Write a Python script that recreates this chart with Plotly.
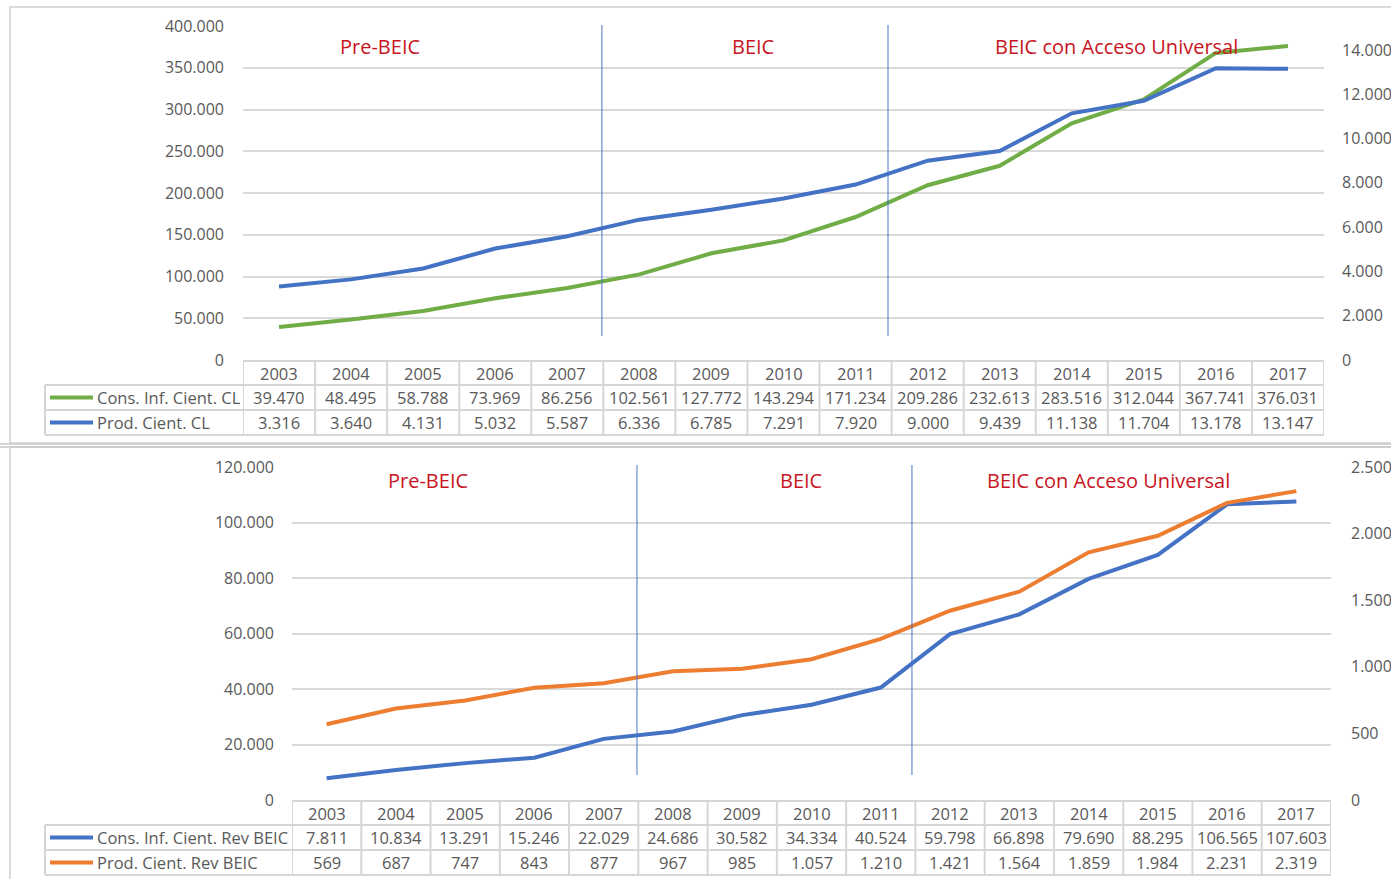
import plotly.graph_objects as go

W, H = 1391, 879

years = list(range(2003, 2018))
cons_cl = [39470, 48495, 58788, 73969, 86256, 102561, 127772, 143294, 171234,
           209286, 232613, 283516, 312044, 367741, 376031]
prod_cl = [3316, 3640, 4131, 5032, 5587, 6336, 6785, 7291, 7920,
           9000, 9439, 11138, 11704, 13178, 13147]
cons_rev = [7811, 10834, 13291, 15246, 22029, 24686, 30582, 34334, 40524,
            59798, 66898, 79690, 88295, 106565, 107603]
prod_rev = [569, 687, 747, 843, 877, 967, 985, 1057, 1210,
            1421, 1564, 1859, 1984, 2231, 2319]

name_cons_cl = "Cons. Inf. Cient. CL"
name_prod_cl = "Prod. Cient. CL"
name_cons_rev = "Cons. Inf. Cient. Rev BEIC"
name_prod_rev = "Prod. Cient. Rev BEIC"

period_labels = ["Pre-BEIC", "BEIC", "BEIC con Acceso Universal"]
period_bounds = [2007.48, 2011.45]

GREEN = "#70AD47"
BLUE = "#4472C4"
ORANGE = "#ED7D31"
GRID = "#D9D9D9"
TXT = "#595959"
RED = "#C8141E"
FONT = "Open Sans"


def fx(px):
    return px / W


def fy(py):
    return 1 - py / H


def fmt(v):
    return f"{v:,}".replace(",", ".")


fig = go.Figure()

# top chart
fig.add_trace(go.Scatter(x=years, y=cons_cl, mode="lines", name=name_cons_cl,
                         line=dict(color=GREEN, width=4), xaxis="x", yaxis="y"))
fig.add_trace(go.Scatter(x=years, y=prod_cl, mode="lines", name=name_prod_cl,
                         line=dict(color=BLUE, width=4), xaxis="x", yaxis="y2"))
# bottom chart
fig.add_trace(go.Scatter(x=years, y=cons_rev, mode="lines", name=name_cons_rev,
                         line=dict(color=BLUE, width=4), xaxis="x2", yaxis="y3"))
fig.add_trace(go.Scatter(x=years, y=prod_rev, mode="lines", name=name_prod_rev,
                         line=dict(color=ORANGE, width=4), xaxis="x2", yaxis="y4"))

tickfont = dict(family=FONT, size=16, color=TXT)
cellfont = dict(family=FONT, size=16.5, color=TXT)

charts = [
    dict(x="x", y="y", left=243, right=1324, top=26, bottom=360, ymax=400000, dtick=50000,
         y2="y2", y2max=15080, y2dtick=2000, y2top=14000,
         rows=[(name_cons_cl, GREEN, cons_cl), (name_prod_cl, BLUE, prod_cl)],
         lstand=18, rstand=17, vtop=25, vbot=336, texty=47, textx=[380, 753, 1116]),
    dict(x="x2", y="y3", left=292, right=1331, top=467, bottom=800, ymax=120000, dtick=20000,
         y2="y4", y2max=2500, y2dtick=500, y2top=2500,
         rows=[(name_cons_rev, BLUE, cons_rev), (name_prod_rev, ORANGE, prod_rev)],
         lstand=17, rstand=19, vtop=465, vbot=775, texty=481, textx=[428, 801, 1108]),
]

layout = dict(width=W, height=H, margin=dict(l=0, r=0, t=0, b=0, pad=0), autosize=False,
              paper_bgcolor="white", plot_bgcolor="white", showlegend=False,
              separators=",.", font=dict(family=FONT, color=TXT))
shapes = []
annotations = []

for c in charts:
    xa = "xaxis" if c["x"] == "x" else "xaxis" + c["x"][1:]
    ya = "yaxis" if c["y"] == "y" else "yaxis" + c["y"][1:]
    ya2 = "yaxis" + c["y2"][1:]
    layout[xa] = dict(domain=[fx(c["left"]), fx(c["right"])], range=[2002.5, 2017.5],
                      showticklabels=False, showgrid=False, zeroline=False, showline=False,
                      anchor=c["y"], fixedrange=True, automargin=False)
    layout[ya] = dict(domain=[fy(c["bottom"]), fy(c["top"])], range=[0, c["ymax"]],
                      tickvals=list(range(0, c["ymax"] + 1, c["dtick"])),
                      tickformat=",d", showgrid=True, gridcolor=GRID, gridwidth=1.5,
                      zeroline=False, showline=False, anchor=c["x"], tickfont=tickfont,
                      ticks="", ticklabelstandoff=c["lstand"], automargin=False)
    layout[ya2] = dict(overlaying=c["y"], side="right", range=[0, c["y2max"]],
                       tickvals=list(range(0, c["y2top"] + 1, c["y2dtick"])),
                       tickformat=",d", showgrid=False, zeroline=False, showline=False,
                       anchor=c["x"], tickfont=tickfont, ticks="",
                       ticklabelstandoff=c["rstand"], automargin=False)

    # period separators
    for b in period_bounds:
        shapes.append(dict(type="line", xref=c["x"], yref="paper", x0=b, x1=b,
                           y0=fy(c["vbot"]), y1=fy(c["vtop"]),
                           line=dict(color=BLUE, width=1.3), opacity=0.75))
    for lab, px in zip(period_labels, c["textx"]):
        annotations.append(dict(text=lab, xref="paper", yref="paper", x=fx(px), y=fy(c["texty"]),
                                xanchor="center", yanchor="middle", showarrow=False,
                                font=dict(family=FONT, size=20, color=RED)))

    # data table
    ht, r1, r2, r3 = c["bottom"] + 1, c["bottom"] + 25, c["bottom"] + 50, c["bottom"] + 75
    tl = dict(color="#D6D6D6", width=2)
    shapes.append(dict(type="line", xref=c["x"], yref="paper", x0=2002.5, x1=2017.5,
                       y0=fy(ht), y1=fy(ht), line=tl))
    for yy in (r1, r2, r3):
        shapes.append(dict(type="line", xref="paper", yref="paper", x0=fx(45), x1=fx(c["right"]),
                           y0=fy(yy), y1=fy(yy), line=tl))
    shapes.append(dict(type="line", xref="paper", yref="paper", x0=fx(45), x1=fx(45),
                       y0=fy(r1), y1=fy(r3), line=tl))
    for i in range(len(years) + 1):
        xb = 2002.5 + i
        shapes.append(dict(type="line", xref=c["x"], yref="paper", x0=xb, x1=xb,
                           y0=fy(ht), y1=fy(r3), line=tl))
    for yr in years:
        annotations.append(dict(text=str(yr), xref=c["x"], yref="paper", x=yr,
                                y=fy((ht + r1) / 2), xanchor="center", yanchor="middle",
                                showarrow=False, font=cellfont))
    for k, (nm, col, vals) in enumerate(c["rows"]):
        yc = fy((r1 + r2) / 2) if k == 0 else fy((r2 + r3) / 2)
        shapes.append(dict(type="line", xref="paper", yref="paper", x0=fx(50), x1=fx(93),
                           y0=yc, y1=yc, line=dict(color=col, width=4)))
        annotations.append(dict(text=nm, xref="paper", yref="paper", x=fx(95), y=yc,
                                xanchor="left", yanchor="middle", showarrow=False,
                                font=cellfont))
        for yr, v in zip(years, vals):
            annotations.append(dict(text=fmt(v), xref=c["x"], yref="paper", x=yr, y=yc,
                                    xanchor="center", yanchor="middle", showarrow=False,
                                    font=cellfont))

# chart frames and separator
frame = dict(color="#D0D0D0", width=1.5)
shapes.append(dict(type="rect", xref="paper", yref="paper", x0=fx(10), x1=fx(1400),
                   y0=fy(443), y1=fy(7), line=frame, layer="below"))
shapes.append(dict(type="rect", xref="paper", yref="paper", x0=fx(10), x1=fx(1400),
                   y0=fy(900), y1=fy(447), line=frame, layer="below"))
shapes.append(dict(type="line", xref="paper", yref="paper", x0=0, x1=1,
                   y0=fy(444), y1=fy(444), line=dict(color="#C8C8C8", width=1.5)))
shapes.append(dict(type="line", xref="paper", yref="paper", x0=0, x1=1,
                   y0=fy(447), y1=fy(447), line=dict(color="#C8C8C8", width=1.5)))

layout["shapes"] = shapes
layout["annotations"] = annotations
fig.update_layout(**layout)

fig.write_html("out.html",
               config={"displayModeBar": False},
               post_script="document.body.style.margin='0px';"
                           "document.body.style.overflow='hidden';")
